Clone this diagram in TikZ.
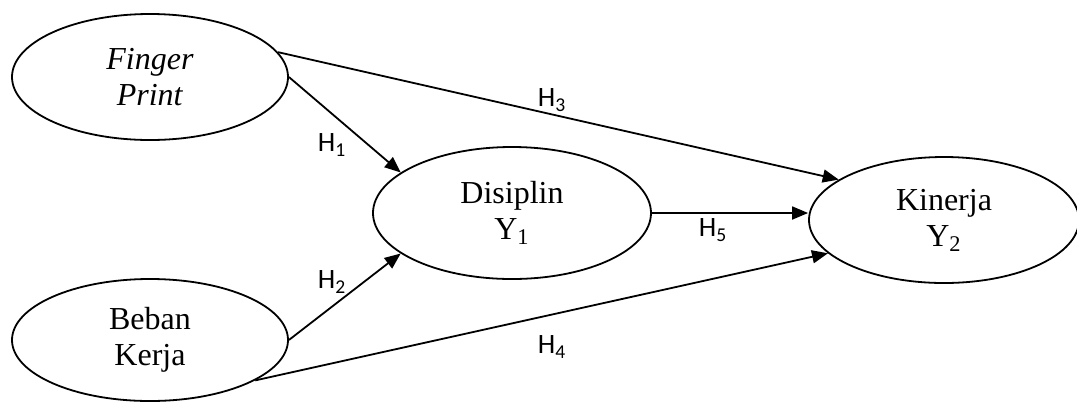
\documentclass[tikz,border=0pt]{standalone}
\usepackage{fontspec}
\setmainfont{Liberation Serif}
\newfontfamily\labelfont{Carlito}
\usetikzlibrary{shapes.geometric, arrows.meta}

\begin{document}
\begin{tikzpicture}[
  x=0.5pt, y=-0.5pt,
  latent/.style={draw, ellipse, line width=0.9pt, inner sep=0pt, align=center, font=\fontsize{16}{18}\selectfont},
  arrow/.style={-{Triangle[length=8pt, width=6.5pt]}, line width=0.9pt},
  hyp/.style={font=\labelfont\fontsize{14}{16}\selectfont, inner sep=0pt},
]
  \useasboundingbox (0,0) rectangle (1077,403);
  \clip (0,0) rectangle (1077,403);

  \node[latent, minimum width=138pt, minimum height=63pt] (finger) at (150,77) {\textit{Finger}\\\textit{Print}};
  \node[latent, minimum width=138pt, minimum height=61pt] (beban) at (150,340) {Beban\\Kerja};
  \node[latent, minimum width=139pt, minimum height=66pt] (disiplin) at (512,213) {Disiplin\\Y\textsubscript{1}};
  \node[latent, minimum width=135pt, minimum height=63pt] (kinerja) at (944,220) {Kinerja\\Y\textsubscript{2}};

  \draw[arrow] (finger.east) -- (disiplin.160);
  \draw[arrow] (beban.east) -- (disiplin.200);
  \draw[arrow] (finger.11) -- (kinerja.159);
  \draw[arrow] (beban.339) -- (kinerja.196);
  \draw[arrow] (disiplin.east) -- (disiplin.east -| kinerja.west);

  \node[hyp] (h1) at (332,145) {H\textsubscript{1}};
  \node[hyp] (h2) at (332,282) {H\textsubscript{2}};
  \node[hyp] (h3) at (552,100) {H\textsubscript{3}};
  \node[hyp] (h4) at (552,347) {H\textsubscript{4}};
  \node[hyp] (h5) at (713,230) {H\textsubscript{5}};
\end{tikzpicture}
\end{document}
